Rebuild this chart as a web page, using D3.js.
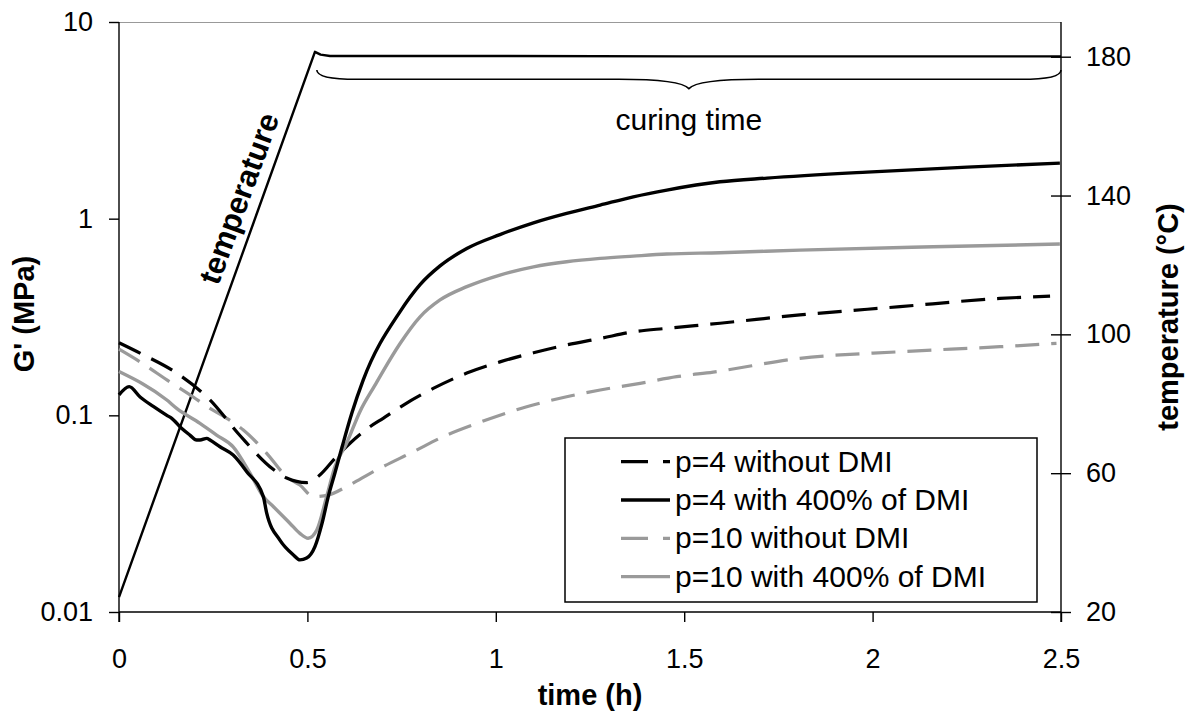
<!DOCTYPE html>
<html>
<head>
<meta charset="utf-8">
<script src="https://cdn.jsdelivr.net/npm/d3@7"></script>
<style>
  html, body { margin: 0; padding: 0; background: #fff; }
  svg { display: block; font-family: "Liberation Sans", Arial, sans-serif; }
</style>
</head>
<body>
<svg id="chart" width="1188" height="718"></svg>
<script>
// ---- data (time in h, G' in MPa, temperature in °C) ----
const xTicks = [0, 0.5, 1, 1.5, 2, 2.5];
const xTickLabels = ["0", "0.5", "1", "1.5", "2", "2.5"];
const yLeftTicks = [0.01, 0.1, 1, 10];
const yLeftTickLabels = ["0.01", "0.1", "1", "10"];
const yRightTicks = [20, 60, 100, 140, 180];
const yRightTickLabels = ["20", "60", "100", "140", "180"];

const seriesNames = ["p=4 without DMI", "p=4 with 400% of DMI", "p=10 without DMI", "p=10 with 400% of DMI"];

const p4NoDMI = [
  [0.0, 0.234], [0.065, 0.203], [0.153, 0.164], [0.241, 0.120], [0.321, 0.079],
  [0.41, 0.053], [0.445, 0.048], [0.498, 0.0455], [0.533, 0.0497], [0.573, 0.0604],
  [0.613, 0.0721], [0.666, 0.0875], [0.701, 0.0966], [0.755, 0.1128], [0.834, 0.137],
  [0.923, 0.164], [1.011, 0.187], [1.1, 0.208], [1.188, 0.228], [1.277, 0.246],
  [1.365, 0.266], [1.454, 0.277], [1.595, 0.294], [1.807, 0.324], [2.073, 0.357],
  [2.338, 0.393], [2.471, 0.404]
];
const p4DMI = [
  [0.0, 0.127], [0.027, 0.140], [0.056, 0.124], [0.091, 0.111], [0.127, 0.100],
  [0.140, 0.0966], [0.166, 0.0859], [0.188, 0.0794], [0.206, 0.0749], [0.215, 0.0749],
  [0.233, 0.0764], [0.2415, 0.0749], [0.268, 0.0692], [0.303, 0.0628], [0.339, 0.0517],
  [0.383, 0.0386], [0.392, 0.0318], [0.427, 0.0232], [0.463, 0.0195], [0.480, 0.0184],
  [0.498, 0.0188], [0.520, 0.0215], [0.539, 0.0283], [0.555, 0.0384], [0.573, 0.0509],
  [0.592, 0.069], [0.618, 0.1027], [0.648, 0.151], [0.746, 0.337], [0.799, 0.462],
  [0.852, 0.575], [0.923, 0.705], [1.011, 0.83], [1.1, 0.953], [1.188, 1.064],
  [1.277, 1.173], [1.365, 1.292], [1.454, 1.398], [1.595, 1.54], [1.720, 1.608],
  [1.985, 1.725], [2.251, 1.829], [2.497, 1.917]
];
const p10NoDMI = [
  [0.0, 0.217], [0.056, 0.187], [0.135, 0.148], [0.197, 0.124], [0.233, 0.111],
  [0.286, 0.0966], [0.33, 0.0842], [0.392, 0.0641], [0.445, 0.0487], [0.480, 0.0442],
  [0.516, 0.0386], [0.555, 0.0393], [0.604, 0.0434], [0.675, 0.0517], [0.781, 0.0653],
  [0.870, 0.0794], [0.962, 0.0928], [1.082, 0.1106], [1.188, 0.1243], [1.277, 0.1345],
  [1.383, 0.1455], [1.48, 0.1572], [1.577, 0.166], [1.807, 0.1949], [2.073, 0.2106],
  [2.338, 0.2233], [2.488, 0.2323]
];
const p10DMI = [
  [0.0, 0.167], [0.127, 0.1196], [0.153, 0.1085], [0.215, 0.0911], [0.259, 0.0794],
  [0.303, 0.0692], [0.348, 0.0507], [0.383, 0.0386], [0.41, 0.0343], [0.454, 0.0282],
  [0.480, 0.0251], [0.502, 0.0237], [0.525, 0.0261], [0.551, 0.0386], [0.573, 0.0548],
  [0.604, 0.0721], [0.64, 0.105], [0.679, 0.142], [0.701, 0.168], [0.746, 0.232],
  [0.799, 0.317], [0.852, 0.386], [0.923, 0.451], [1.011, 0.517], [1.1, 0.569],
  [1.188, 0.604], [1.277, 0.628], [1.365, 0.645], [1.454, 0.661], [1.595, 0.671],
  [1.807, 0.692], [2.161, 0.720], [2.497, 0.743]
];
const temperature = [
  [0.0, 24.3], [0.52, 181.4], [0.535, 180.6], [0.56, 180.2], [1.0, 180.2], [1.5, 180.1], [2.5, 180.1]
];

// ---- layout ----
const svg = d3.select("#chart");
const L = 119, R = 1061, T = 22, B = 612;
const x = d3.scaleLinear().domain([0, 2.5]).range([L, R]);
const yL = d3.scaleLog().domain([0.01, 10]).range([B, T]);
const yR = d3.scaleLinear().domain([20, 190]).range([B, T]);

const GRAY = "#9a9a9a";
const styles = [
  { color: "#000", dash: "24,12", width: 3.2 },
  { color: "#000", dash: null, width: 3.4 },
  { color: GRAY, dash: "24,12", width: 3.2 },
  { color: GRAY, dash: null, width: 3.4 }
];
const seriesData = [p4NoDMI, p4DMI, p10NoDMI, p10DMI];

// top border
svg.append("line").attr("x1", L).attr("x2", R).attr("y1", T + 0.5).attr("y2", T + 0.5)
  .attr("stroke", "#999").attr("stroke-width", 1.2);

// axes
const fs = 27;
const leftAxis = d3.axisLeft(yL).tickValues(yLeftTicks)
  .tickFormat((d, i) => yLeftTickLabels[i]).tickSize(10).tickPadding(16);
const gL = svg.append("g").attr("transform", `translate(${L},0)`).call(leftAxis);

const bottomAxis = d3.axisBottom(x).tickValues(xTicks)
  .tickFormat((d, i) => xTickLabels[i]).tickSize(10).tickPadding(27);
const gB = svg.append("g").attr("transform", `translate(0,${B})`).call(bottomAxis);

const rightAxis = d3.axisRight(yR).tickValues(yRightTicks)
  .tickFormat((d, i) => yRightTickLabels[i]).tickSize(10).tickPadding(15);
const gR = svg.append("g").attr("transform", `translate(${R},0)`).call(rightAxis);
gR.selectAll(".tick line").attr("x1", -10);
gR.select(".domain").attr("d", `M0,${T}V${B + 10}`);
gL.select(".domain").attr("d", `M0,${T}V${B + 10}`);

[gL, gB, gR].forEach(g => {
  g.selectAll(".domain").attr("stroke", "#000").attr("stroke-width", 1.4);
  g.selectAll(".tick line").attr("stroke", "#000").attr("stroke-width", 1.4);
  g.selectAll("text").attr("font-size", fs).attr("fill", "#000")
    .attr("font-family", '"Liberation Sans", Arial, sans-serif');
});
gB.select(".domain").attr("d", `M${L},0H${R}`);

// axis titles
svg.append("text").attr("transform", `translate(34,314) rotate(-90)`)
  .attr("text-anchor", "middle").attr("font-weight", "bold").attr("font-size", 29)
  .text("G' (MPa)");
svg.append("text").attr("x", (L + R) / 2).attr("y", 705)
  .attr("text-anchor", "middle").attr("font-weight", "bold").attr("font-size", 29)
  .text("time (h)");
svg.append("text").attr("transform", `translate(1178,317) rotate(-90)`)
  .attr("text-anchor", "middle").attr("font-weight", "bold").attr("font-size", 29)
  .text("temperature (°C)");

// temperature line
const tempLine = d3.line().x(d => x(d[0])).y(d => yR(d[1]));
svg.append("path").datum(temperature).attr("d", tempLine)
  .attr("fill", "none").attr("stroke", "#000").attr("stroke-width", 2.4)
  .attr("stroke-linejoin", "round");

svg.append("text").attr("transform", `translate(249,202) rotate(-70)`)
  .attr("text-anchor", "middle").attr("font-weight", "bold").attr("font-size", 31)
  .text("temperature");

// curing time brace (in data coordinates: time, temperature)
const bL = 0.525, bR = 2.5, bM = (bL + bR) / 2;
const yTop = yR(176.2), yMid = yR(173.5), yTip = yR(170.8);
const braceD = `M${x(bL)},${yTop} Q${x(bL)},${yMid} ${x(bL) + 40},${yMid}` +
  ` L${x(bM) - 70},${yMid} Q${x(bM) - 8},${yMid} ${x(bM)},${yTip}` +
  ` Q${x(bM) + 8},${yMid} ${x(bM) + 70},${yMid}` +
  ` L${x(bR) - 40},${yMid} Q${x(bR)},${yMid} ${x(bR)},${yTop}`;
svg.append("path").attr("d", braceD).attr("fill", "none").attr("stroke", "#000").attr("stroke-width", 1.6);
svg.append("text").attr("x", x(bM)).attr("y", 130).attr("text-anchor", "middle")
  .attr("font-size", 30).text("curing time");

// G' series
const gLine = d3.line().x(d => x(d[0])).y(d => yL(d[1])).curve(d3.curveMonotoneX);
const order = [2, 0, 3, 1];
order.forEach(i => {
  svg.append("path").datum(seriesData[i]).attr("d", gLine)
    .attr("fill", "none").attr("stroke", styles[i].color)
    .attr("stroke-width", styles[i].width)
    .attr("stroke-dasharray", styles[i].dash)
    .attr("stroke-linejoin", "round");
});

// legend
const lg = svg.append("g");
lg.append("rect").attr("x", 565).attr("y", 438).attr("width", 472).attr("height", 164)
  .attr("fill", "#fff").attr("stroke", "#000").attr("stroke-width", 1.5);
seriesNames.forEach((name, i) => {
  const base = 471.7 + i * 38.3;
  const cy = base - 10;
  lg.append("line").attr("x1", 621).attr("x2", 670).attr("y1", cy).attr("y2", cy)
    .attr("stroke", styles[i].color).attr("stroke-width", styles[i].width)
    .attr("stroke-dasharray", styles[i].dash ? "27,15" : null);
  lg.append("text").attr("x", 675).attr("y", base).attr("font-size", 30).text(name);
});
</script>
</body>
</html>
